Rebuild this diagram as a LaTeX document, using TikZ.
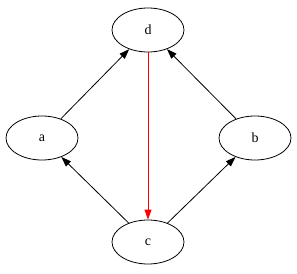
\documentclass[tikz,border=0pt]{standalone}
\usepackage{fontspec}
\setmainfont{Liberation Serif}
\usetikzlibrary{shapes.geometric, arrows.meta}

\begin{document}
\begin{tikzpicture}[
    x=1pt, y=-1pt,
    every node/.style={font=\fontsize{14}{16}\selectfont},
    vertex/.style={ellipse, draw=black, line width=0.8pt, minimum width=72pt,
                   minimum height=44pt, inner sep=0pt},
    arrow/.style={-{Triangle[length=10pt, width=7pt]}, line width=0.8pt},
]
\useasboundingbox (0,0) rectangle (297,273);

%% --- Vertices ---
\node[vertex] (d) at (148,30)  {d};
\node[vertex] (a) at (42,138)  {a};
\node[vertex] (b) at (255,138) {b};
\node[vertex] (c) at (148,242) {c};

%% --- Edges ---
\draw[arrow] (a) -- (d);
\draw[arrow] (b) -- (d);
\draw[arrow] (c) -- (a);
\draw[arrow] (c) -- (b);
\draw[arrow, color=red, fill=red] (d) -- (c);

\end{tikzpicture}
\end{document}
